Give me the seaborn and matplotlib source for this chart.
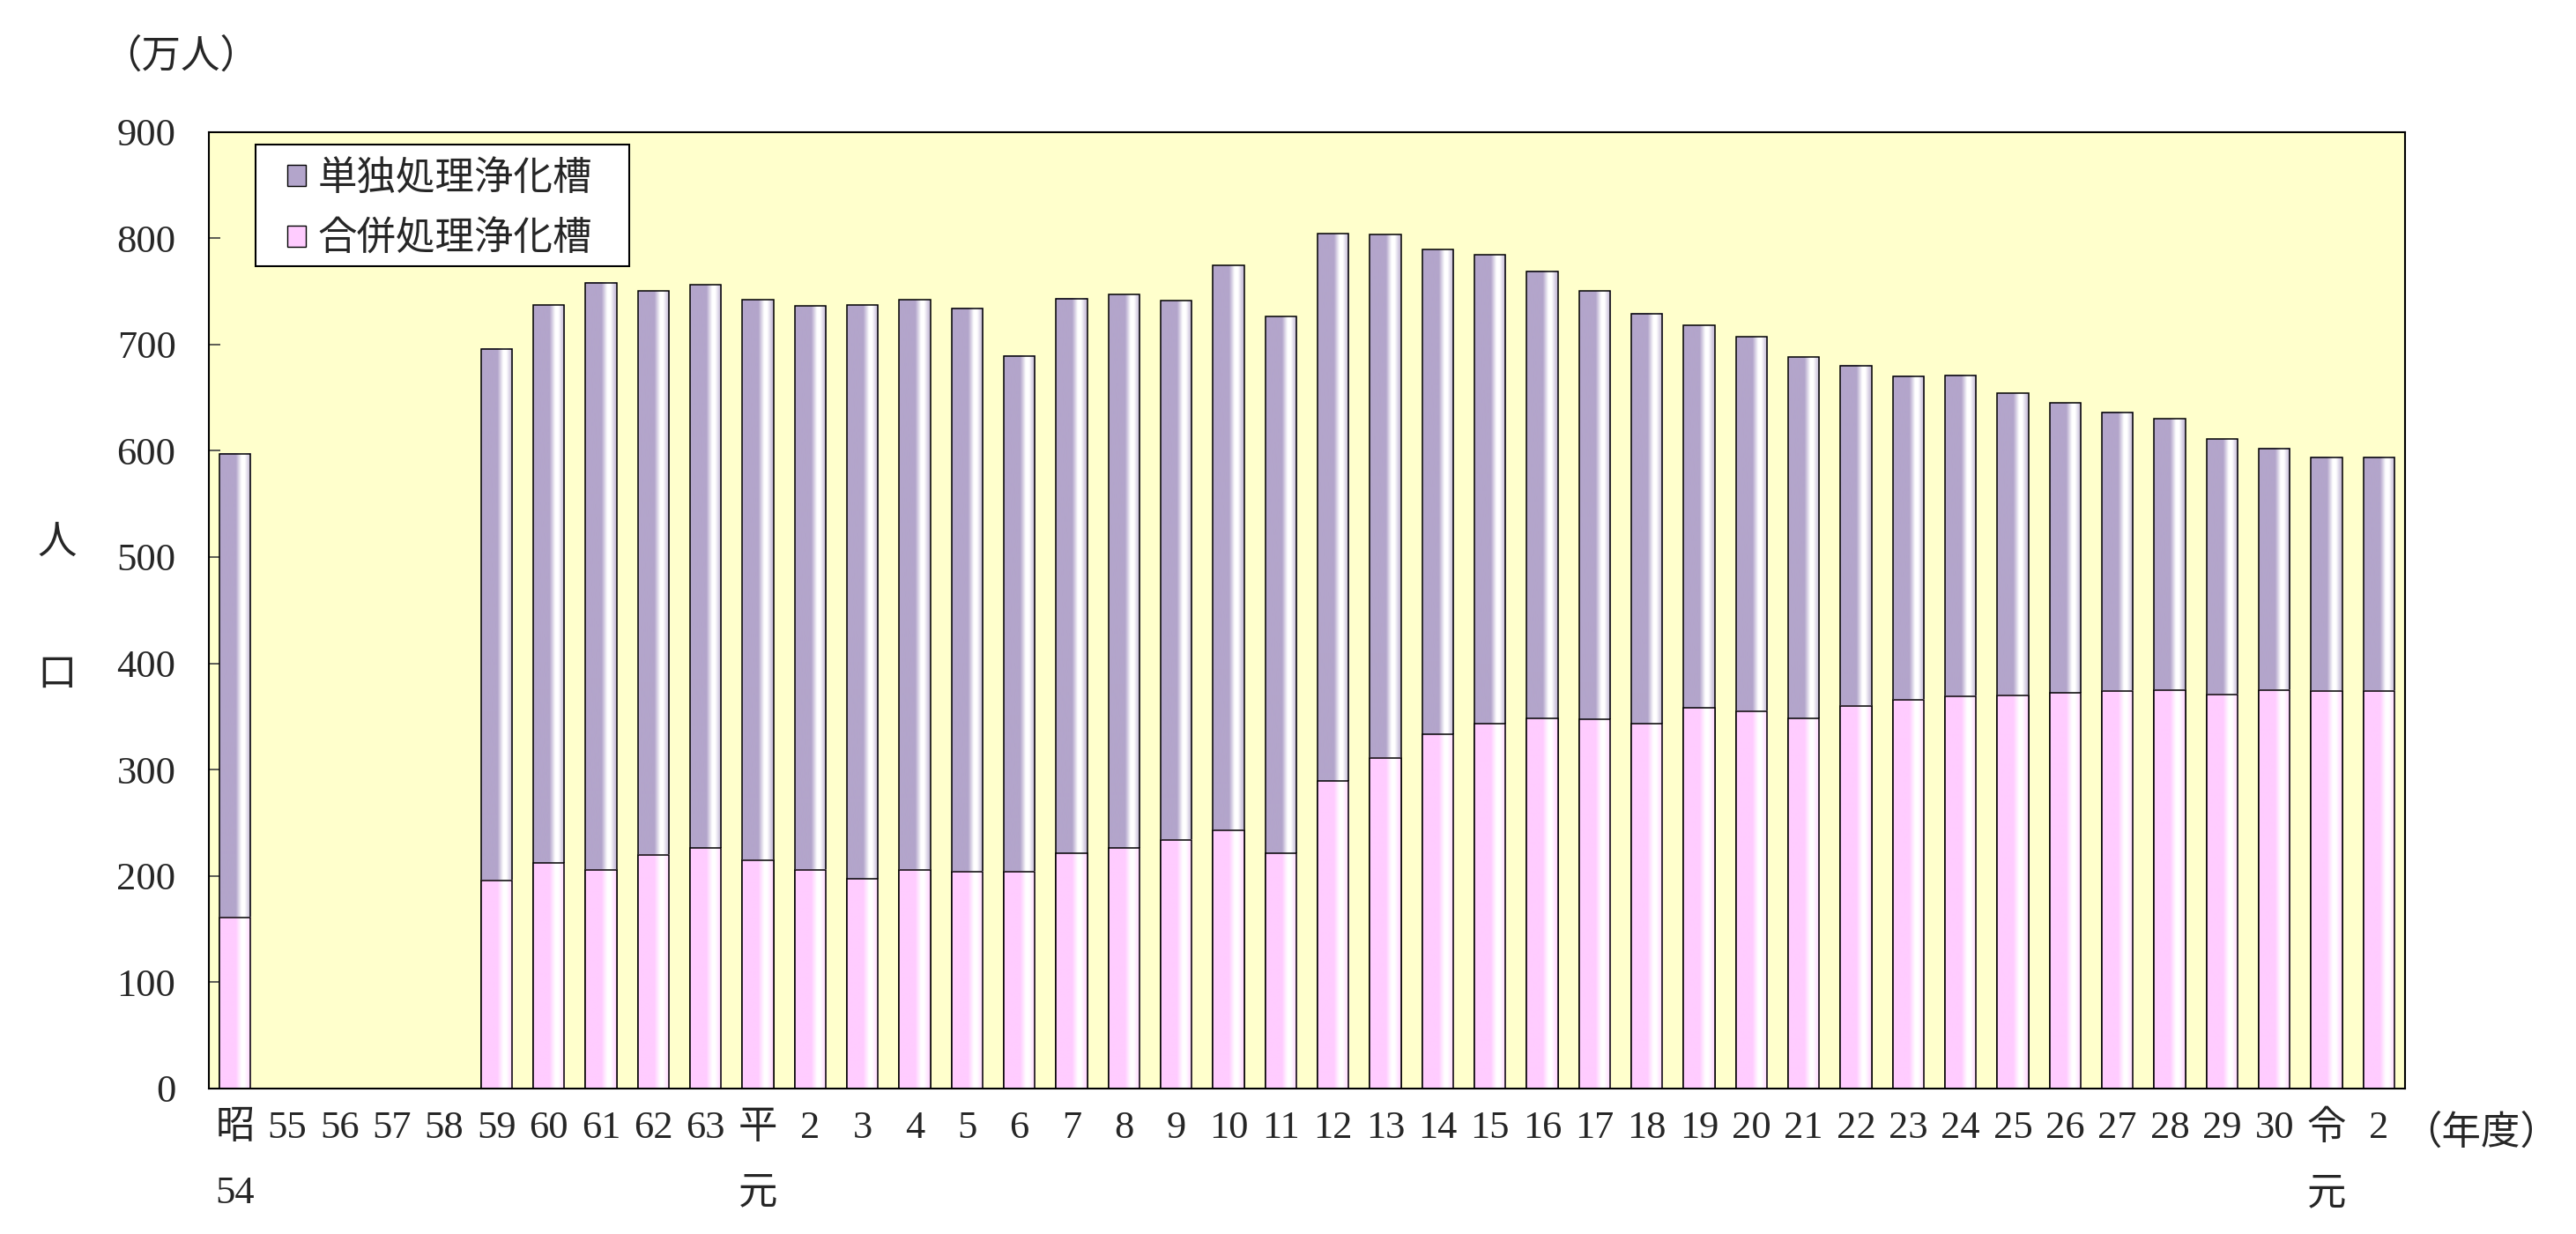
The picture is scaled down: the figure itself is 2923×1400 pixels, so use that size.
import numpy as np
import pandas as pd
import matplotlib
matplotlib.use("Agg")
import matplotlib.pyplot as plt
from matplotlib.patches import Patch, Rectangle
from matplotlib.colors import to_rgb
import seaborn as sns

# ---------------- data ----------------
years = ["昭和54", "昭和55", "昭和56", "昭和57", "昭和58", "昭和59", "昭和60", "昭和61", "昭和62", "昭和63",
         "平成元"] + [f"平成{i}" for i in range(2, 31)] + ["令和元", "令和2"]
tick_labels = ["昭\n54", "55", "56", "57", "58", "59", "60", "61", "62", "63",
               "平\n元"] + [str(i) for i in range(2, 31)] + ["令\n元", "2"]

# 合併処理浄化槽 (万人); None = no data
gappei = [161, None, None, None, None, 196, 212, 206, 220, 226,
          215, 206, 197, 206, 204, 204, 221, 226, 234, 243,
          221, 289, 311, 333, 343, 348, 347, 343, 358, 355,
          348, 360, 366, 369, 370, 372, 374, 375, 371, 375,
          374, 374]
# 単独処理浄化槽 (万人)
tandoku = [436, None, None, None, None, 500, 525, 552, 530, 530,
           527, 530, 540, 536, 530, 485, 522, 521, 507, 531,
           505, 515, 492, 456, 441, 421, 403, 386, 360, 352,
           340, 320, 304, 302, 284, 273, 262, 255, 240, 227,
           220, 220]

legend_labels = ["単独処理浄化槽", "合併処理浄化槽"]
yticks = [0, 100, 200, 300, 400, 500, 600, 700, 800, 900]

df = pd.DataFrame({"year": years, "gappei": gappei, "tandoku": tandoku}).dropna()
df["total"] = df["gappei"] + df["tandoku"]

# ---------------- style ----------------
sns.set_style("ticks")
plt.rcParams["font.family"] = ["Liberation Serif", "Noto Sans CJK JP"]
FS = 32

purple = "#B3A5CB"
pink = "#FFCCFF"
bg = "#FFFFCC"

W, H, DPI = 2923, 1400, 100
fig = plt.figure(figsize=(W / DPI, H / DPI), dpi=DPI, facecolor="white")
L, R, T, B = 237, 2729, 149.5, 1235
ax = fig.add_axes([L / W, 1 - B / H, (R - L) / W, (B - T) / H])
ax.set_facecolor(bg)

bw = 0.59
sns.barplot(data=df, x="year", y="total", order=years, color=purple, saturation=1,
            width=bw, edgecolor="black", linewidth=1.1, ax=ax)
sns.barplot(data=df, x="year", y="gappei", order=years, color=pink, saturation=1,
            width=bw, edgecolor="black", linewidth=1.1, ax=ax)


def gradient(base):
    b = np.array(to_rgb(base))
    w = np.ones(3)
    mid = b + (w - b) * 0.45
    stops = [(0.0, b), (0.52, b), (0.70, w), (0.80, w), (0.92, mid), (1.0, b + (w - b) * 0.15)]
    xs = np.linspace(0, 1, 128)
    pos = [s[0] for s in stops]
    arr = np.stack([np.interp(xs, pos, [s[1][c] for s in stops]) for c in range(3)], axis=-1)
    return arr[np.newaxis, :, :]


for ci, (container, base) in enumerate(zip(ax.containers[:2], [purple, pink])):
    g = gradient(base)
    for p in container.patches:
        x0, y0 = p.get_x(), p.get_y()
        w, h = p.get_width(), p.get_height()
        if not np.isfinite(h) or h == 0:
            continue
        ax.imshow(g, extent=(x0, x0 + w, y0, y0 + h), aspect="auto",
                  interpolation="bilinear", zorder=1.1 + ci * 0.2)
        p.set_facecolor("none")
        p.set_zorder(1.2 + ci * 0.2)

ax.set_xlim(-0.5, len(years) - 0.5)
ax.set_ylim(0, 900)
ax.set_yticks(yticks)
ax.set_yticklabels([str(v) for v in yticks], fontsize=FS)
ax.set_xticks(range(len(years)))
ax.set_xticklabels(tick_labels, fontsize=FS)
for t in ax.get_xticklabels():
    t.set_linespacing(2.1)
ax.tick_params(axis="y", direction="in", length=9.5, width=1.2, color="#404040", pad=27)
ax.tick_params(axis="x", length=0, pad=18)
for s in ax.spines.values():
    s.set_visible(True)
    s.set_color("black")
    s.set_linewidth(1.5)
    s.set_zorder(5)

ax.set_xlabel("")
ax.set_ylabel("人\n口", rotation=0, fontsize=FS, linespacing=4.5, va="center", ha="center")
ax.yaxis.set_label_coords((65 - L) / (R - L), 0.5)

fig.text(205 / W, 1 - 65 / H, "（万人）", fontsize=FS, ha="center", va="center")
fig.text(2815 / W, 1 - 1286 / H, "（年度）", fontsize=FS, ha="center", va="center")

# legend box (frame drawn separately for exact padding)
frame = Rectangle((290 / W, 1 - 302 / H), (714 - 290) / W, (302 - 164) / H,
                  transform=fig.transFigure, facecolor="white", edgecolor="black",
                  linewidth=1.5, zorder=6)
ax.add_artist(frame)
frame.set_clip_on(False)

handles = [Patch(facecolor=purple, edgecolor="black", linewidth=1.0),
           Patch(facecolor=pink, edgecolor="black", linewidth=1.0)]
leg = ax.legend(handles, legend_labels, loc="upper left",
                bbox_to_anchor=(326 / W, 1 - 182 / H), bbox_transform=fig.transFigure,
                fontsize=FS, frameon=False, borderaxespad=0, borderpad=0,
                handlelength=0.47, handleheight=0.47, handletextpad=0.3,
                labelspacing=0.6)
leg.set_zorder(7)

fig.savefig("out.png", dpi=DPI, facecolor="white")
